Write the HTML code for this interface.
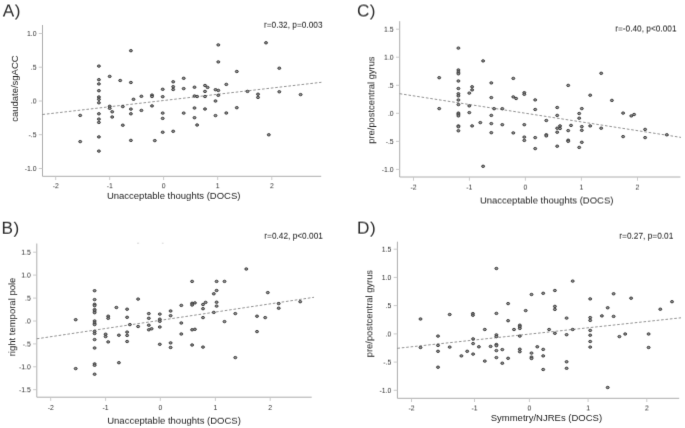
<!DOCTYPE html>
<html><head><meta charset="utf-8"><title>Scatter plots</title>
<style>
html,body{margin:0;padding:0;background:#fff;}
body{width:685px;height:428px;overflow:hidden;}
svg{display:block;filter:grayscale(1);font-family:"Liberation Sans",sans-serif;}
.ax{stroke:#adadad;stroke-width:1;fill:none;}
.tk{stroke:#c4c4c4;stroke-width:0.9;fill:none;}
.tl{font-size:6.9px;fill:#333333;}
.al{font-size:9.5px;fill:#222222;}
.rt{font-size:8.3px;fill:#111;}
.lt{font-size:17.2px;fill:#2a2a2a;letter-spacing:0.5px;}
.fit{stroke:#6c6c6c;stroke-width:0.75;stroke-dasharray:2.6 1.82;fill:none;}
.d ellipse{fill:#8e8e8e;stroke:#333;stroke-width:0.9;}
</style></head><body>
<svg width="685" height="428" viewBox="0 0 685 428">
<defs>
<filter id="f-1_0" x="0" y="0" width="685" height="428" filterUnits="userSpaceOnUse" color-interpolation-filters="sRGB"><feConvolveMatrix order="3" kernelMatrix="0.0143 0.0683 0.0035 0.1374 0.6565 0.0339 0.0143 0.0683 0.0035" divisor="1" edgeMode="none" preserveAlpha="false"/></filter>
<filter id="f0_-4" x="0" y="0" width="685" height="428" filterUnits="userSpaceOnUse" color-interpolation-filters="sRGB"><feConvolveMatrix order="3" kernelMatrix="0.0435 0.4182 0.0435 0.0422 0.4054 0.0422 0.0004 0.0043 0.0004" divisor="1" edgeMode="none" preserveAlpha="false"/></filter>
<filter id="f0_-3" x="0" y="0" width="685" height="428" filterUnits="userSpaceOnUse" color-interpolation-filters="sRGB"><feConvolveMatrix order="3" kernelMatrix="0.0332 0.3189 0.0332 0.0520 0.5004 0.0520 0.0009 0.0085 0.0009" divisor="1" edgeMode="none" preserveAlpha="false"/></filter>
<filter id="f0_-2" x="0" y="0" width="685" height="428" filterUnits="userSpaceOnUse" color-interpolation-filters="sRGB"><feConvolveMatrix order="3" kernelMatrix="0.0233 0.2236 0.0233 0.0611 0.5875 0.0611 0.0017 0.0167 0.0017" divisor="1" edgeMode="none" preserveAlpha="false"/></filter>
<filter id="f0_-1" x="0" y="0" width="685" height="428" filterUnits="userSpaceOnUse" color-interpolation-filters="sRGB"><feConvolveMatrix order="3" kernelMatrix="0.0143 0.1374 0.0143 0.0683 0.6565 0.0683 0.0035 0.0339 0.0035" divisor="1" edgeMode="none" preserveAlpha="false"/></filter>
<filter id="f0_0" x="0" y="0" width="685" height="428" filterUnits="userSpaceOnUse" color-interpolation-filters="sRGB"><feConvolveMatrix order="3" kernelMatrix="0.0074 0.0713 0.0074 0.0713 0.6853 0.0713 0.0074 0.0713 0.0074" divisor="1" edgeMode="none" preserveAlpha="false"/></filter>
<filter id="f0_1" x="0" y="0" width="685" height="428" filterUnits="userSpaceOnUse" color-interpolation-filters="sRGB"><feConvolveMatrix order="3" kernelMatrix="0.0035 0.0339 0.0035 0.0683 0.6565 0.0683 0.0143 0.1374 0.0143" divisor="1" edgeMode="none" preserveAlpha="false"/></filter>
<filter id="f0_2" x="0" y="0" width="685" height="428" filterUnits="userSpaceOnUse" color-interpolation-filters="sRGB"><feConvolveMatrix order="3" kernelMatrix="0.0017 0.0167 0.0017 0.0611 0.5875 0.0611 0.0233 0.2236 0.0233" divisor="1" edgeMode="none" preserveAlpha="false"/></filter>
<filter id="f0_3" x="0" y="0" width="685" height="428" filterUnits="userSpaceOnUse" color-interpolation-filters="sRGB"><feConvolveMatrix order="3" kernelMatrix="0.0009 0.0085 0.0009 0.0520 0.5004 0.0520 0.0332 0.3189 0.0332" divisor="1" edgeMode="none" preserveAlpha="false"/></filter>
<filter id="f0_4" x="0" y="0" width="685" height="428" filterUnits="userSpaceOnUse" color-interpolation-filters="sRGB"><feConvolveMatrix order="3" kernelMatrix="0.0004 0.0043 0.0004 0.0422 0.4054 0.0422 0.0435 0.4182 0.0435" divisor="1" edgeMode="none" preserveAlpha="false"/></filter>
<filter id="f2_0" x="0" y="0" width="685" height="428" filterUnits="userSpaceOnUse" color-interpolation-filters="sRGB"><feConvolveMatrix order="3" kernelMatrix="0.0017 0.0611 0.0233 0.0167 0.5875 0.2236 0.0017 0.0611 0.0233" divisor="1" edgeMode="none" preserveAlpha="false"/></filter>
<filter id="f3_0" x="0" y="0" width="685" height="428" filterUnits="userSpaceOnUse" color-interpolation-filters="sRGB"><feConvolveMatrix order="3" kernelMatrix="0.0009 0.0520 0.0332 0.0085 0.5004 0.3189 0.0009 0.0520 0.0332" divisor="1" edgeMode="none" preserveAlpha="false"/></filter>
</defs>
<rect width="685" height="428" fill="#ffffff"/>
<g filter="url(#f0_0)">
<g id="panelA">
<path class="ax" d="M42.5 25.0 V176.3 H321.2"/>
<path class="tk" d="M38.8 33.5 H42.5"/>
<path class="tk" d="M38.8 67.2 H42.5"/>
<path class="tk" d="M38.8 101.0 H42.5"/>
<path class="tk" d="M38.8 134.7 H42.5"/>
<path class="tk" d="M38.8 168.5 H42.5"/>
<path class="tk" d="M55.7 176.3 V180.0"/>
<path class="tk" d="M109.7 176.3 V180.0"/>
<path class="tk" d="M163.6 176.3 V180.0"/>
<path class="tk" d="M217.7 176.3 V180.0"/>
<path class="tk" d="M271.8 176.3 V180.0"/>
<path class="fit" d="M42.5 114.5 L321.4 82.3"/>
<g class="d">
<ellipse cx="98.9" cy="66.1" rx="1.5" ry="1.2"/>
<ellipse cx="98.9" cy="79.7" rx="1.5" ry="1.2"/>
<ellipse cx="98.9" cy="83.9" rx="1.5" ry="1.2"/>
<ellipse cx="98.9" cy="90.7" rx="1.5" ry="1.2"/>
<ellipse cx="98.9" cy="97.0" rx="1.5" ry="1.2"/>
<ellipse cx="98.9" cy="99.3" rx="1.5" ry="1.2"/>
<ellipse cx="98.9" cy="102.8" rx="1.5" ry="1.2"/>
<ellipse cx="98.9" cy="113.8" rx="1.5" ry="1.2"/>
<ellipse cx="109.7" cy="76.4" rx="1.5" ry="1.2"/>
<ellipse cx="109.7" cy="106.3" rx="1.5" ry="1.2"/>
<ellipse cx="109.7" cy="108.3" rx="1.5" ry="1.2"/>
<ellipse cx="112.2" cy="111.8" rx="1.5" ry="1.2"/>
<ellipse cx="120.2" cy="80.5" rx="1.5" ry="1.2"/>
<ellipse cx="122.8" cy="106.6" rx="1.5" ry="1.2"/>
<ellipse cx="130.9" cy="50.7" rx="1.5" ry="1.2"/>
<ellipse cx="130.9" cy="82.5" rx="1.5" ry="1.2"/>
<ellipse cx="130.9" cy="109.1" rx="1.5" ry="1.2"/>
<ellipse cx="130.9" cy="113.8" rx="1.5" ry="1.2"/>
<ellipse cx="133.5" cy="99.3" rx="1.5" ry="1.2"/>
<ellipse cx="141.4" cy="96.3" rx="1.5" ry="1.2"/>
<ellipse cx="141.4" cy="110.4" rx="1.5" ry="1.2"/>
<ellipse cx="152.0" cy="95.1" rx="1.5" ry="1.2"/>
<ellipse cx="152.0" cy="96.5" rx="1.5" ry="1.2"/>
<ellipse cx="152.0" cy="105.9" rx="1.5" ry="1.2"/>
<ellipse cx="162.7" cy="89.3" rx="1.5" ry="1.2"/>
<ellipse cx="162.7" cy="96.7" rx="1.5" ry="1.2"/>
<ellipse cx="162.7" cy="113.1" rx="1.5" ry="1.2"/>
<ellipse cx="173.2" cy="81.8" rx="1.5" ry="1.2"/>
<ellipse cx="173.2" cy="86.7" rx="1.5" ry="1.2"/>
<ellipse cx="173.2" cy="89.5" rx="1.5" ry="1.2"/>
<ellipse cx="183.7" cy="78.3" rx="1.5" ry="1.2"/>
<ellipse cx="183.7" cy="88.6" rx="1.5" ry="1.2"/>
<ellipse cx="183.7" cy="113.1" rx="1.5" ry="1.2"/>
<ellipse cx="80.2" cy="115.4" rx="1.5" ry="1.2"/>
<ellipse cx="194.5" cy="87.2" rx="1.5" ry="1.2"/>
<ellipse cx="194.5" cy="96.0" rx="1.5" ry="1.2"/>
<ellipse cx="197.1" cy="96.5" rx="1.5" ry="1.2"/>
<ellipse cx="194.5" cy="108.0" rx="1.5" ry="1.2"/>
<ellipse cx="205.0" cy="85.5" rx="1.5" ry="1.2"/>
<ellipse cx="207.6" cy="87.4" rx="1.5" ry="1.2"/>
<ellipse cx="205.0" cy="91.4" rx="1.5" ry="1.2"/>
<ellipse cx="205.0" cy="96.5" rx="1.5" ry="1.2"/>
<ellipse cx="205.0" cy="109.0" rx="1.5" ry="1.2"/>
<ellipse cx="215.5" cy="89.7" rx="1.5" ry="1.2"/>
<ellipse cx="218.3" cy="90.4" rx="1.5" ry="1.2"/>
<ellipse cx="218.3" cy="95.3" rx="1.5" ry="1.2"/>
<ellipse cx="215.5" cy="101.0" rx="1.5" ry="1.2"/>
<ellipse cx="218.3" cy="44.9" rx="1.5" ry="1.2"/>
<ellipse cx="218.3" cy="61.9" rx="1.5" ry="1.2"/>
<ellipse cx="215.5" cy="115.6" rx="1.5" ry="1.2"/>
<ellipse cx="226.3" cy="84.4" rx="1.5" ry="1.2"/>
<ellipse cx="226.3" cy="113.0" rx="1.5" ry="1.2"/>
<ellipse cx="236.8" cy="71.5" rx="1.5" ry="1.2"/>
<ellipse cx="236.8" cy="107.7" rx="1.5" ry="1.2"/>
<ellipse cx="247.5" cy="91.4" rx="1.5" ry="1.2"/>
<ellipse cx="258.0" cy="94.2" rx="1.5" ry="1.2"/>
<ellipse cx="258.0" cy="97.4" rx="1.5" ry="1.2"/>
<ellipse cx="266.0" cy="42.8" rx="1.5" ry="1.2"/>
<ellipse cx="279.3" cy="68.2" rx="1.5" ry="1.2"/>
<ellipse cx="279.3" cy="91.8" rx="1.5" ry="1.2"/>
<ellipse cx="300.6" cy="94.6" rx="1.5" ry="1.2"/>
<ellipse cx="80.2" cy="141.6" rx="1.5" ry="1.2"/>
<ellipse cx="98.9" cy="119.1" rx="1.5" ry="1.2"/>
<ellipse cx="98.9" cy="122.4" rx="1.5" ry="1.2"/>
<ellipse cx="98.9" cy="136.9" rx="1.5" ry="1.2"/>
<ellipse cx="98.9" cy="151.1" rx="1.5" ry="1.2"/>
<ellipse cx="112.2" cy="117.0" rx="1.5" ry="1.2"/>
<ellipse cx="122.8" cy="125.2" rx="1.5" ry="1.2"/>
<ellipse cx="130.9" cy="140.4" rx="1.5" ry="1.2"/>
<ellipse cx="154.8" cy="140.6" rx="1.5" ry="1.2"/>
<ellipse cx="162.7" cy="118.4" rx="1.5" ry="1.2"/>
<ellipse cx="162.7" cy="132.2" rx="1.5" ry="1.2"/>
<ellipse cx="173.2" cy="131.3" rx="1.5" ry="1.2"/>
<ellipse cx="194.5" cy="117.7" rx="1.5" ry="1.2"/>
<ellipse cx="197.1" cy="125.0" rx="1.5" ry="1.2"/>
<ellipse cx="268.8" cy="134.8" rx="1.5" ry="1.2"/>
</g></g>
<g id="panelB">
<path class="ax" d="M36.8 243.5 V397.2 H311.7"/>
<path class="tk" d="M33.1 252.2 H36.8"/>
<path class="tk" d="M33.1 275.1 H36.8"/>
<path class="tk" d="M33.1 298.1 H36.8"/>
<path class="tk" d="M33.1 321.0 H36.8"/>
<path class="tk" d="M33.1 343.9 H36.8"/>
<path class="tk" d="M33.1 366.8 H36.8"/>
<path class="tk" d="M33.1 389.7 H36.8"/>
<path class="tk" d="M50.7 397.2 V400.9"/>
<path class="tk" d="M105.6 397.2 V400.9"/>
<path class="tk" d="M160.3 397.2 V400.9"/>
<path class="tk" d="M215.4 397.2 V400.9"/>
<path class="tk" d="M270.2 397.2 V400.9"/>
<path class="fit" d="M36.8 338.8 L314.0 297.3"/>
<g class="d">
<ellipse cx="75.7" cy="319.7" rx="1.5" ry="1.2"/>
<ellipse cx="94.6" cy="290.7" rx="1.5" ry="1.2"/>
<ellipse cx="94.6" cy="299.6" rx="1.5" ry="1.2"/>
<ellipse cx="94.6" cy="304.3" rx="1.5" ry="1.2"/>
<ellipse cx="94.6" cy="305.7" rx="1.5" ry="1.2"/>
<ellipse cx="94.6" cy="309.6" rx="1.5" ry="1.2"/>
<ellipse cx="94.6" cy="311.0" rx="1.5" ry="1.2"/>
<ellipse cx="94.6" cy="312.7" rx="1.5" ry="1.2"/>
<ellipse cx="94.6" cy="321.0" rx="1.5" ry="1.2"/>
<ellipse cx="94.6" cy="323.1" rx="1.5" ry="1.2"/>
<ellipse cx="94.6" cy="324.6" rx="1.5" ry="1.2"/>
<ellipse cx="108.2" cy="316.2" rx="1.5" ry="1.2"/>
<ellipse cx="108.2" cy="318.3" rx="1.5" ry="1.2"/>
<ellipse cx="116.4" cy="307.5" rx="1.5" ry="1.2"/>
<ellipse cx="127.1" cy="309.2" rx="1.5" ry="1.2"/>
<ellipse cx="127.1" cy="317.3" rx="1.5" ry="1.2"/>
<ellipse cx="129.9" cy="324.6" rx="1.5" ry="1.2"/>
<ellipse cx="138.1" cy="299.1" rx="1.5" ry="1.2"/>
<ellipse cx="138.1" cy="326.5" rx="1.5" ry="1.2"/>
<ellipse cx="148.8" cy="313.6" rx="1.5" ry="1.2"/>
<ellipse cx="148.8" cy="318.3" rx="1.5" ry="1.2"/>
<ellipse cx="148.8" cy="325.2" rx="1.5" ry="1.2"/>
<ellipse cx="148.8" cy="329.8" rx="1.5" ry="1.2"/>
<ellipse cx="151.6" cy="328.8" rx="1.5" ry="1.2"/>
<ellipse cx="159.8" cy="314.1" rx="1.5" ry="1.2"/>
<ellipse cx="159.8" cy="319.2" rx="1.5" ry="1.2"/>
<ellipse cx="159.8" cy="321.3" rx="1.5" ry="1.2"/>
<ellipse cx="159.8" cy="327.0" rx="1.5" ry="1.2"/>
<ellipse cx="170.6" cy="311.0" rx="1.5" ry="1.2"/>
<ellipse cx="170.6" cy="315.7" rx="1.5" ry="1.2"/>
<ellipse cx="181.3" cy="305.4" rx="1.5" ry="1.2"/>
<ellipse cx="181.3" cy="323.0" rx="1.5" ry="1.2"/>
<ellipse cx="192.1" cy="281.4" rx="1.5" ry="1.2"/>
<ellipse cx="192.1" cy="303.3" rx="1.5" ry="1.2"/>
<ellipse cx="192.1" cy="305.0" rx="1.5" ry="1.2"/>
<ellipse cx="194.9" cy="302.9" rx="1.5" ry="1.2"/>
<ellipse cx="192.1" cy="329.8" rx="1.5" ry="1.2"/>
<ellipse cx="194.9" cy="329.3" rx="1.5" ry="1.2"/>
<ellipse cx="203.0" cy="304.5" rx="1.5" ry="1.2"/>
<ellipse cx="205.6" cy="302.4" rx="1.5" ry="1.2"/>
<ellipse cx="203.0" cy="308.7" rx="1.5" ry="1.2"/>
<ellipse cx="203.0" cy="317.6" rx="1.5" ry="1.2"/>
<ellipse cx="213.8" cy="293.8" rx="1.5" ry="1.2"/>
<ellipse cx="216.6" cy="290.5" rx="1.5" ry="1.2"/>
<ellipse cx="216.6" cy="281.4" rx="1.5" ry="1.2"/>
<ellipse cx="216.6" cy="302.2" rx="1.5" ry="1.2"/>
<ellipse cx="216.6" cy="306.1" rx="1.5" ry="1.2"/>
<ellipse cx="213.8" cy="312.4" rx="1.5" ry="1.2"/>
<ellipse cx="224.5" cy="281.4" rx="1.5" ry="1.2"/>
<ellipse cx="224.5" cy="321.6" rx="1.5" ry="1.2"/>
<ellipse cx="235.3" cy="313.6" rx="1.5" ry="1.2"/>
<ellipse cx="246.3" cy="269.0" rx="1.5" ry="1.2"/>
<ellipse cx="257.0" cy="316.2" rx="1.5" ry="1.2"/>
<ellipse cx="265.2" cy="317.6" rx="1.5" ry="1.2"/>
<ellipse cx="267.8" cy="292.6" rx="1.5" ry="1.2"/>
<ellipse cx="278.7" cy="303.6" rx="1.5" ry="1.2"/>
<ellipse cx="278.7" cy="308.2" rx="1.5" ry="1.2"/>
<ellipse cx="300.2" cy="301.7" rx="1.5" ry="1.2"/>
<ellipse cx="75.7" cy="368.6" rx="1.5" ry="1.2"/>
<ellipse cx="94.6" cy="331.4" rx="1.5" ry="1.2"/>
<ellipse cx="94.6" cy="333.5" rx="1.5" ry="1.2"/>
<ellipse cx="94.6" cy="339.6" rx="1.5" ry="1.2"/>
<ellipse cx="94.6" cy="348.0" rx="1.5" ry="1.2"/>
<ellipse cx="94.6" cy="363.9" rx="1.5" ry="1.2"/>
<ellipse cx="94.6" cy="365.3" rx="1.5" ry="1.2"/>
<ellipse cx="94.6" cy="374.2" rx="1.5" ry="1.2"/>
<ellipse cx="105.6" cy="334.2" rx="1.5" ry="1.2"/>
<ellipse cx="105.6" cy="336.6" rx="1.5" ry="1.2"/>
<ellipse cx="108.2" cy="341.9" rx="1.5" ry="1.2"/>
<ellipse cx="118.9" cy="335.2" rx="1.5" ry="1.2"/>
<ellipse cx="118.9" cy="362.7" rx="1.5" ry="1.2"/>
<ellipse cx="127.1" cy="332.1" rx="1.5" ry="1.2"/>
<ellipse cx="127.1" cy="335.4" rx="1.5" ry="1.2"/>
<ellipse cx="127.1" cy="341.5" rx="1.5" ry="1.2"/>
<ellipse cx="159.8" cy="344.3" rx="1.5" ry="1.2"/>
<ellipse cx="170.6" cy="342.9" rx="1.5" ry="1.2"/>
<ellipse cx="170.6" cy="347.5" rx="1.5" ry="1.2"/>
<ellipse cx="181.3" cy="334.0" rx="1.5" ry="1.2"/>
<ellipse cx="192.1" cy="345.0" rx="1.5" ry="1.2"/>
<ellipse cx="203.0" cy="347.1" rx="1.5" ry="1.2"/>
<ellipse cx="235.3" cy="357.6" rx="1.5" ry="1.2"/>
<ellipse cx="257.0" cy="331.6" rx="1.5" ry="1.2"/>
<rect x="137.0" y="242.7" width="2.2" height="1" fill="#d8d8d8"/><rect x="161.8" y="242.7" width="1.8" height="1" fill="#d8d8d8"/>
</g></g>
<g id="panelC">
<path class="ax" d="M399.7 21.2 V177.0 H680.4"/>
<path class="tk" d="M396.0 29.2 H399.7"/>
<path class="tk" d="M396.0 57.2 H399.7"/>
<path class="tk" d="M396.0 85.3 H399.7"/>
<path class="tk" d="M396.0 113.3 H399.7"/>
<path class="tk" d="M396.0 141.4 H399.7"/>
<path class="tk" d="M396.0 169.4 H399.7"/>
<path class="tk" d="M413.5 177.0 V180.7"/>
<path class="tk" d="M469.4 177.0 V180.7"/>
<path class="tk" d="M525.4 177.0 V180.7"/>
<path class="tk" d="M581.4 177.0 V180.7"/>
<path class="tk" d="M637.5 177.0 V180.7"/>
<path class="fit" d="M399.7 93.7 L681.0 137.4"/>
<g class="d">
<ellipse cx="439.2" cy="77.7" rx="1.5" ry="1.2"/>
<ellipse cx="439.2" cy="108.6" rx="1.5" ry="1.2"/>
<ellipse cx="458.4" cy="48.1" rx="1.5" ry="1.2"/>
<ellipse cx="458.4" cy="70.0" rx="1.5" ry="1.2"/>
<ellipse cx="458.4" cy="72.1" rx="1.5" ry="1.2"/>
<ellipse cx="458.4" cy="73.8" rx="1.5" ry="1.2"/>
<ellipse cx="458.4" cy="81.0" rx="1.5" ry="1.2"/>
<ellipse cx="458.4" cy="88.5" rx="1.5" ry="1.2"/>
<ellipse cx="458.4" cy="93.8" rx="1.5" ry="1.2"/>
<ellipse cx="458.4" cy="95.9" rx="1.5" ry="1.2"/>
<ellipse cx="458.4" cy="100.0" rx="1.5" ry="1.2"/>
<ellipse cx="458.4" cy="104.6" rx="1.5" ry="1.2"/>
<ellipse cx="469.3" cy="93.1" rx="1.5" ry="1.2"/>
<ellipse cx="472.1" cy="86.8" rx="1.5" ry="1.2"/>
<ellipse cx="472.1" cy="89.9" rx="1.5" ry="1.2"/>
<ellipse cx="469.3" cy="105.9" rx="1.5" ry="1.2"/>
<ellipse cx="483.1" cy="60.9" rx="1.5" ry="1.2"/>
<ellipse cx="491.3" cy="82.9" rx="1.5" ry="1.2"/>
<ellipse cx="491.3" cy="97.6" rx="1.5" ry="1.2"/>
<ellipse cx="494.1" cy="108.7" rx="1.5" ry="1.2"/>
<ellipse cx="502.3" cy="108.7" rx="1.5" ry="1.2"/>
<ellipse cx="513.3" cy="78.4" rx="1.5" ry="1.2"/>
<ellipse cx="513.3" cy="96.9" rx="1.5" ry="1.2"/>
<ellipse cx="516.1" cy="98.5" rx="1.5" ry="1.2"/>
<ellipse cx="524.3" cy="92.7" rx="1.5" ry="1.2"/>
<ellipse cx="524.3" cy="94.3" rx="1.5" ry="1.2"/>
<ellipse cx="535.2" cy="99.9" rx="1.5" ry="1.2"/>
<ellipse cx="535.2" cy="109.5" rx="1.5" ry="1.2"/>
<ellipse cx="557.2" cy="107.5" rx="1.5" ry="1.2"/>
<ellipse cx="568.2" cy="85.4" rx="1.5" ry="1.2"/>
<ellipse cx="581.8" cy="108.6" rx="1.5" ry="1.2"/>
<ellipse cx="590.2" cy="95.2" rx="1.5" ry="1.2"/>
<ellipse cx="601.2" cy="73.3" rx="1.5" ry="1.2"/>
<ellipse cx="611.9" cy="100.4" rx="1.5" ry="1.2"/>
<ellipse cx="458.4" cy="113.1" rx="1.5" ry="1.2"/>
<ellipse cx="458.4" cy="114.2" rx="1.5" ry="1.2"/>
<ellipse cx="458.4" cy="115.9" rx="1.5" ry="1.2"/>
<ellipse cx="458.4" cy="125.9" rx="1.5" ry="1.2"/>
<ellipse cx="458.4" cy="126.8" rx="1.5" ry="1.2"/>
<ellipse cx="458.4" cy="130.8" rx="1.5" ry="1.2"/>
<ellipse cx="469.3" cy="112.6" rx="1.5" ry="1.2"/>
<ellipse cx="472.1" cy="125.9" rx="1.5" ry="1.2"/>
<ellipse cx="480.3" cy="122.6" rx="1.5" ry="1.2"/>
<ellipse cx="483.1" cy="166.3" rx="1.5" ry="1.2"/>
<ellipse cx="491.3" cy="115.4" rx="1.5" ry="1.2"/>
<ellipse cx="491.3" cy="123.6" rx="1.5" ry="1.2"/>
<ellipse cx="491.3" cy="132.7" rx="1.5" ry="1.2"/>
<ellipse cx="502.3" cy="124.7" rx="1.5" ry="1.2"/>
<ellipse cx="513.3" cy="132.9" rx="1.5" ry="1.2"/>
<ellipse cx="524.3" cy="124.7" rx="1.5" ry="1.2"/>
<ellipse cx="524.3" cy="137.1" rx="1.5" ry="1.2"/>
<ellipse cx="524.3" cy="140.4" rx="1.5" ry="1.2"/>
<ellipse cx="535.2" cy="137.6" rx="1.5" ry="1.2"/>
<ellipse cx="535.2" cy="148.6" rx="1.5" ry="1.2"/>
<ellipse cx="546.3" cy="120.5" rx="1.5" ry="1.2"/>
<ellipse cx="546.3" cy="134.8" rx="1.5" ry="1.2"/>
<ellipse cx="546.3" cy="135.9" rx="1.5" ry="1.2"/>
<ellipse cx="557.2" cy="115.4" rx="1.5" ry="1.2"/>
<ellipse cx="557.2" cy="128.2" rx="1.5" ry="1.2"/>
<ellipse cx="557.2" cy="132.2" rx="1.5" ry="1.2"/>
<ellipse cx="557.2" cy="146.2" rx="1.5" ry="1.2"/>
<ellipse cx="560.0" cy="125.9" rx="1.5" ry="1.2"/>
<ellipse cx="560.0" cy="128.5" rx="1.5" ry="1.2"/>
<ellipse cx="568.2" cy="130.6" rx="1.5" ry="1.2"/>
<ellipse cx="568.2" cy="140.2" rx="1.5" ry="1.2"/>
<ellipse cx="568.2" cy="141.3" rx="1.5" ry="1.2"/>
<ellipse cx="571.0" cy="125.4" rx="1.5" ry="1.2"/>
<ellipse cx="579.2" cy="113.5" rx="1.5" ry="1.2"/>
<ellipse cx="579.2" cy="118.2" rx="1.5" ry="1.2"/>
<ellipse cx="579.2" cy="147.4" rx="1.5" ry="1.2"/>
<ellipse cx="581.8" cy="126.6" rx="1.5" ry="1.2"/>
<ellipse cx="581.8" cy="130.3" rx="1.5" ry="1.2"/>
<ellipse cx="581.8" cy="142.3" rx="1.5" ry="1.2"/>
<ellipse cx="590.2" cy="125.9" rx="1.5" ry="1.2"/>
<ellipse cx="601.2" cy="128.2" rx="1.5" ry="1.2"/>
<ellipse cx="623.1" cy="113.1" rx="1.5" ry="1.2"/>
<ellipse cx="623.1" cy="136.6" rx="1.5" ry="1.2"/>
<ellipse cx="631.3" cy="115.9" rx="1.5" ry="1.2"/>
<ellipse cx="634.1" cy="114.5" rx="1.5" ry="1.2"/>
<ellipse cx="645.1" cy="129.4" rx="1.5" ry="1.2"/>
<ellipse cx="645.1" cy="137.6" rx="1.5" ry="1.2"/>
<ellipse cx="666.8" cy="134.8" rx="1.5" ry="1.2"/>
</g></g>
<g id="panelD">
<path class="ax" d="M397.4 241.7 V398.3 H679.2"/>
<path class="tk" d="M393.7 249.2 H397.4"/>
<path class="tk" d="M393.7 277.4 H397.4"/>
<path class="tk" d="M393.7 305.6 H397.4"/>
<path class="tk" d="M393.7 333.9 H397.4"/>
<path class="tk" d="M393.7 362.1 H397.4"/>
<path class="tk" d="M393.7 390.3 H397.4"/>
<path class="tk" d="M411.5 398.3 V402.0"/>
<path class="tk" d="M474.5 398.3 V402.0"/>
<path class="tk" d="M529.4 398.3 V402.0"/>
<path class="tk" d="M588.1 398.3 V402.0"/>
<path class="tk" d="M646.8 398.3 V402.0"/>
<path class="fit" d="M397.4 348.3 L681.0 317.8"/>
<g class="d">
<ellipse cx="420.5" cy="319.0" rx="1.5" ry="1.2"/>
<ellipse cx="449.7" cy="314.5" rx="1.5" ry="1.2"/>
<ellipse cx="472.9" cy="313.6" rx="1.5" ry="1.2"/>
<ellipse cx="472.9" cy="315.2" rx="1.5" ry="1.2"/>
<ellipse cx="484.8" cy="329.5" rx="1.5" ry="1.2"/>
<ellipse cx="496.4" cy="268.5" rx="1.5" ry="1.2"/>
<ellipse cx="496.4" cy="313.4" rx="1.5" ry="1.2"/>
<ellipse cx="508.1" cy="303.6" rx="1.5" ry="1.2"/>
<ellipse cx="508.1" cy="320.7" rx="1.5" ry="1.2"/>
<ellipse cx="514.0" cy="329.5" rx="1.5" ry="1.2"/>
<ellipse cx="519.8" cy="325.2" rx="1.5" ry="1.2"/>
<ellipse cx="519.8" cy="326.8" rx="1.5" ry="1.2"/>
<ellipse cx="519.8" cy="328.4" rx="1.5" ry="1.2"/>
<ellipse cx="525.7" cy="310.6" rx="1.5" ry="1.2"/>
<ellipse cx="531.5" cy="294.5" rx="1.5" ry="1.2"/>
<ellipse cx="543.2" cy="293.3" rx="1.5" ry="1.2"/>
<ellipse cx="549.1" cy="329.5" rx="1.5" ry="1.2"/>
<ellipse cx="554.9" cy="290.5" rx="1.5" ry="1.2"/>
<ellipse cx="554.9" cy="306.4" rx="1.5" ry="1.2"/>
<ellipse cx="554.9" cy="309.4" rx="1.5" ry="1.2"/>
<ellipse cx="566.6" cy="318.1" rx="1.5" ry="1.2"/>
<ellipse cx="572.7" cy="281.1" rx="1.5" ry="1.2"/>
<ellipse cx="572.7" cy="329.5" rx="1.5" ry="1.2"/>
<ellipse cx="590.2" cy="298.9" rx="1.5" ry="1.2"/>
<ellipse cx="590.2" cy="317.6" rx="1.5" ry="1.2"/>
<ellipse cx="590.2" cy="320.4" rx="1.5" ry="1.2"/>
<ellipse cx="590.2" cy="330.4" rx="1.5" ry="1.2"/>
<ellipse cx="601.9" cy="315.9" rx="1.5" ry="1.2"/>
<ellipse cx="607.7" cy="307.8" rx="1.5" ry="1.2"/>
<ellipse cx="613.6" cy="293.8" rx="1.5" ry="1.2"/>
<ellipse cx="613.6" cy="316.4" rx="1.5" ry="1.2"/>
<ellipse cx="631.1" cy="298.2" rx="1.5" ry="1.2"/>
<ellipse cx="660.3" cy="309.2" rx="1.5" ry="1.2"/>
<ellipse cx="672.0" cy="301.7" rx="1.5" ry="1.2"/>
<ellipse cx="420.5" cy="347.5" rx="1.5" ry="1.2"/>
<ellipse cx="438.0" cy="336.1" rx="1.5" ry="1.2"/>
<ellipse cx="438.0" cy="345.4" rx="1.5" ry="1.2"/>
<ellipse cx="438.0" cy="351.3" rx="1.5" ry="1.2"/>
<ellipse cx="438.0" cy="367.2" rx="1.5" ry="1.2"/>
<ellipse cx="449.7" cy="347.1" rx="1.5" ry="1.2"/>
<ellipse cx="461.4" cy="355.9" rx="1.5" ry="1.2"/>
<ellipse cx="467.2" cy="351.3" rx="1.5" ry="1.2"/>
<ellipse cx="473.1" cy="338.9" rx="1.5" ry="1.2"/>
<ellipse cx="473.1" cy="343.6" rx="1.5" ry="1.2"/>
<ellipse cx="473.1" cy="354.1" rx="1.5" ry="1.2"/>
<ellipse cx="478.9" cy="346.8" rx="1.5" ry="1.2"/>
<ellipse cx="484.8" cy="361.1" rx="1.5" ry="1.2"/>
<ellipse cx="490.6" cy="346.4" rx="1.5" ry="1.2"/>
<ellipse cx="496.4" cy="334.9" rx="1.5" ry="1.2"/>
<ellipse cx="496.4" cy="336.6" rx="1.5" ry="1.2"/>
<ellipse cx="496.4" cy="344.5" rx="1.5" ry="1.2"/>
<ellipse cx="496.4" cy="345.7" rx="1.5" ry="1.2"/>
<ellipse cx="496.4" cy="350.6" rx="1.5" ry="1.2"/>
<ellipse cx="496.4" cy="357.6" rx="1.5" ry="1.2"/>
<ellipse cx="502.3" cy="349.6" rx="1.5" ry="1.2"/>
<ellipse cx="502.3" cy="363.2" rx="1.5" ry="1.2"/>
<ellipse cx="508.1" cy="358.3" rx="1.5" ry="1.2"/>
<ellipse cx="519.8" cy="336.1" rx="1.5" ry="1.2"/>
<ellipse cx="519.8" cy="349.2" rx="1.5" ry="1.2"/>
<ellipse cx="519.8" cy="351.7" rx="1.5" ry="1.2"/>
<ellipse cx="531.5" cy="353.1" rx="1.5" ry="1.2"/>
<ellipse cx="531.5" cy="357.1" rx="1.5" ry="1.2"/>
<ellipse cx="531.5" cy="358.5" rx="1.5" ry="1.2"/>
<ellipse cx="537.3" cy="346.8" rx="1.5" ry="1.2"/>
<ellipse cx="543.2" cy="349.4" rx="1.5" ry="1.2"/>
<ellipse cx="543.2" cy="355.9" rx="1.5" ry="1.2"/>
<ellipse cx="543.2" cy="369.5" rx="1.5" ry="1.2"/>
<ellipse cx="554.9" cy="333.3" rx="1.5" ry="1.2"/>
<ellipse cx="566.6" cy="334.7" rx="1.5" ry="1.2"/>
<ellipse cx="566.6" cy="361.8" rx="1.5" ry="1.2"/>
<ellipse cx="566.6" cy="368.3" rx="1.5" ry="1.2"/>
<ellipse cx="590.2" cy="335.2" rx="1.5" ry="1.2"/>
<ellipse cx="590.2" cy="341.5" rx="1.5" ry="1.2"/>
<ellipse cx="590.2" cy="347.1" rx="1.5" ry="1.2"/>
<ellipse cx="607.7" cy="387.5" rx="1.5" ry="1.2"/>
<ellipse cx="619.4" cy="336.6" rx="1.5" ry="1.2"/>
<ellipse cx="625.2" cy="334.0" rx="1.5" ry="1.2"/>
<ellipse cx="648.6" cy="334.0" rx="1.5" ry="1.2"/>
<ellipse cx="648.6" cy="347.5" rx="1.5" ry="1.2"/>
</g></g>
</g>
<g filter="url(#f-1_0)">
<text class="al" text-anchor="middle" transform="translate(18 88.60) rotate(-90)">caudate/sgACC</text>
</g>
<g filter="url(#f0_-4)">
<text class="tl" text-anchor="end" x="36.50" y="104">.0</text>
<text class="tl" text-anchor="end" x="30.80" y="324">.0</text>
<text class="tl" text-anchor="middle" x="411.50" y="411">-2</text>
<text class="tl" text-anchor="middle" x="474.50" y="411">-1</text>
<text class="tl" text-anchor="middle" x="529.40" y="411">0</text>
<text class="tl" text-anchor="middle" x="588.10" y="411">1</text>
<text class="tl" text-anchor="middle" x="646.80" y="411">2</text>
</g>
<g filter="url(#f0_-3)">
<text class="tl" text-anchor="end" x="30.80" y="278">1.0</text>
<text class="tl" text-anchor="end" x="30.80" y="301">.5</text>
<text class="tl" text-anchor="middle" x="413.50" y="190">-2</text>
<text class="tl" text-anchor="middle" x="469.40" y="190">-1</text>
<text class="tl" text-anchor="middle" x="525.40" y="190">0</text>
<text class="tl" text-anchor="middle" x="581.40" y="190">1</text>
<text class="tl" text-anchor="middle" x="637.50" y="190">2</text>
<text class="tl" text-anchor="end" x="391.40" y="365">-.5</text>
<text class="lt" x="357.10" y="234">D)</text>
</g>
<g filter="url(#f0_-2)">
<text class="tl" text-anchor="end" x="36.50" y="70">.5</text>
<text class="rt" text-anchor="end" x="322.50" y="28">r=0.32, p=0.003</text>
<text class="tl" text-anchor="end" x="30.80" y="255">1.5</text>
<text class="al" text-anchor="middle" x="174.00" y="424">Unacceptable thoughts (DOCS)</text>
<text class="lt" x="1.60" y="234">B)</text>
<text class="rt" text-anchor="end" x="322.90" y="239">r=0.42, p&lt;0.001</text>
<text class="tl" text-anchor="end" x="393.70" y="32">1.5</text>
<text class="tl" text-anchor="end" x="393.70" y="60">1.0</text>
<text class="tl" text-anchor="end" x="391.40" y="252">1.5</text>
<text class="rt" text-anchor="end" x="673.30" y="239">r=0.27, p=0.01</text>
</g>
<g filter="url(#f0_-1)">
<text class="al" text-anchor="middle" x="173.70" y="199">Unacceptable thoughts (DOCS)</text>
<text class="tl" text-anchor="end" x="393.70" y="88">.5</text>
<text class="tl" text-anchor="end" x="393.70" y="116">.0</text>
<text class="tl" text-anchor="end" x="391.40" y="393">-1.0</text>
</g>
<g filter="url(#f0_0)">
<text class="tl" text-anchor="end" x="36.50" y="36">1.0</text>
<text class="tl" text-anchor="end" x="36.50" y="171">-1.0</text>
<text class="tl" text-anchor="middle" x="50.70" y="410">-2</text>
<text class="tl" text-anchor="middle" x="105.60" y="410">-1</text>
<text class="tl" text-anchor="middle" x="160.30" y="410">0</text>
<text class="tl" text-anchor="middle" x="215.40" y="410">1</text>
<text class="tl" text-anchor="middle" x="270.20" y="410">2</text>
<text class="tl" text-anchor="end" x="393.70" y="144">-.5</text>
<text class="tl" text-anchor="end" x="393.70" y="172">-1.0</text>
<text class="tl" text-anchor="end" x="391.40" y="280">1.0</text>
<text class="al" text-anchor="middle" x="546.40" y="421">Symmetry/NJREs (DOCS)</text>
</g>
<g filter="url(#f0_1)">
<text class="tl" text-anchor="end" x="391.40" y="308">.5</text>
</g>
<g filter="url(#f0_2)">
<text class="tl" text-anchor="end" x="36.50" y="137">-.5</text>
<text class="tl" text-anchor="middle" x="55.70" y="188">-2</text>
<text class="tl" text-anchor="middle" x="109.70" y="188">-1</text>
<text class="tl" text-anchor="middle" x="163.60" y="188">0</text>
<text class="tl" text-anchor="middle" x="217.70" y="188">1</text>
<text class="tl" text-anchor="middle" x="271.80" y="188">2</text>
<text class="tl" text-anchor="end" x="30.80" y="392">-1.5</text>
</g>
<g filter="url(#f0_3)">
<text class="tl" text-anchor="end" x="30.80" y="369">-1.0</text>
</g>
<g filter="url(#f0_4)">
<text class="lt" x="2.80" y="16">A)</text>
<text class="tl" text-anchor="end" x="30.80" y="346">-.5</text>
<text class="al" text-anchor="middle" x="546.70" y="203">Unacceptable thoughts (DOCS)</text>
<text class="lt" x="356.90" y="16">C)</text>
<text class="rt" text-anchor="end" x="676.50" y="31">r=-0.40, p&lt;0.001</text>
<text class="tl" text-anchor="end" x="391.40" y="336">.0</text>
</g>
<g filter="url(#f2_0)">
<text class="al" text-anchor="middle" transform="translate(15 317.00) rotate(-90)">right temporal pole</text>
</g>
<g filter="url(#f3_0)">
<text class="al" style="font-size:9.35px" text-anchor="middle" transform="translate(374 100.10) rotate(-90)">pre/postcentral gyrus</text>
<text class="al" style="font-size:9.35px" text-anchor="middle" transform="translate(372 313.60) rotate(-90)">pre/postcentral gyrus</text>
</g>
</svg></body></html>
